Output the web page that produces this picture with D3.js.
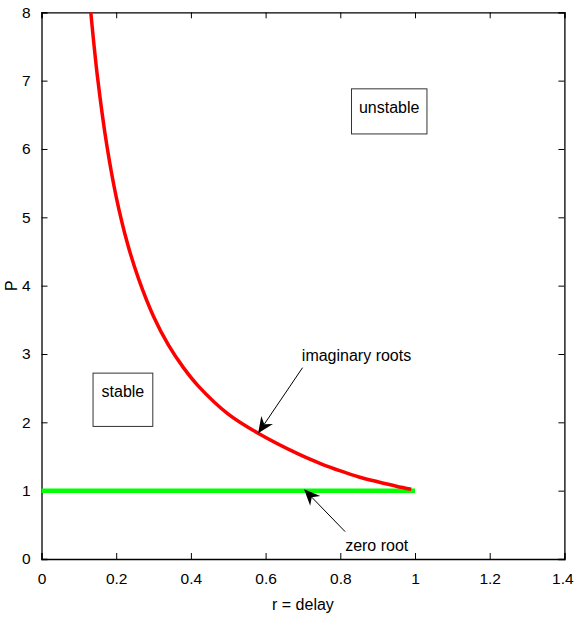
<!DOCTYPE html>
<html>
<head>
<meta charset="utf-8">
<script src="https://cdn.jsdelivr.net/npm/d3@7"></script>
<style>
body { margin: 0; background: #fff; }
text { font-family: "Liberation Sans", Arial, sans-serif; }
</style>
</head>
<body>
<div id="chart"></div>
<script>
// values
var rDelay = [0.132, 0.15, 0.175, 0.2, 0.23, 0.26, 0.3, 0.34, 0.38, 0.42, 0.5, 0.58, 0.69, 0.75, 0.8, 0.85, 0.9, 0.95, 0.99];
var pImag = [8.0, 7.05, 6.05, 5.3, 4.62, 4.1, 3.55, 3.13, 2.8, 2.53, 2.12, 1.84, 1.53, 1.39, 1.29, 1.2, 1.13, 1.065, 1.02];
var rZero = [0, 1];
var pZero = [1, 1];
var xTicks = [0, 0.2, 0.4, 0.6, 0.8, 1, 1.2, 1.4];
var yTicks = [0, 1, 2, 3, 4, 5, 6, 7, 8];
var xTickLabels = ["0", "0.2", "0.4", "0.6", "0.8", "1", "1.2", "1.4"];

var width = 574, height = 617;
var margin = {top: 12.3, right: 9.6, bottom: 58, left: 41.5};
var w = width - margin.left - margin.right,
    h = height - margin.top - margin.bottom;

var svg = d3.select("#chart").append("svg")
    .attr("width", width)
    .attr("height", height);

var g = svg.append("g")
    .attr("transform", "translate(" + margin.left + "," + margin.top + ")");

var x = d3.scaleLinear().domain([0, 1.4]).range([0, w]);
var y = d3.scaleLinear().domain([0, 8]).range([h, 0]);

// axes, ticks inside on all four sides (matlab box)
var xAxisG = g.append("g")
    .attr("transform", "translate(0," + h + ")")
    .call(d3.axisBottom(x).tickValues(xTicks).tickSize(-6).tickPadding(14)
        .tickFormat(function (d, i) { return xTickLabels[i]; }));
g.append("g")
    .call(d3.axisTop(x).tickValues(xTicks).tickSize(-6).tickFormat(""));
g.append("g")
    .call(d3.axisLeft(y).tickValues(yTicks).tickSize(-6).tickPadding(11));
g.append("g")
    .attr("transform", "translate(" + w + ",0)")
    .call(d3.axisRight(y).tickValues(yTicks).tickSize(-6).tickFormat(""));

g.selectAll(".domain").attr("stroke", "#000").attr("stroke-width", 1.3);
g.selectAll(".tick line").attr("stroke", "#000");
g.selectAll(".tick text")
    .attr("font-size", 15.5)
    .attr("fill", "#000")
    .style("font-family", "'Liberation Sans', Arial, sans-serif");
// last label sits against the right edge of the figure
xAxisG.selectAll(".tick text").filter(function (d) { return d === 1.4; })
    .attr("x", -2);

// lines
var zeroLine = d3.line()
    .x(function (d, i) { return x(rZero[i]); })
    .y(function (d, i) { return y(pZero[i]); });
g.append("path")
    .attr("d", zeroLine(rZero))
    .attr("fill", "none")
    .attr("stroke", "#00ff00")
    .attr("stroke-width", 4.5);

var imagLine = d3.line()
    .curve(d3.curveCatmullRom.alpha(0.5))
    .x(function (d, i) { return x(rDelay[i]); })
    .y(function (d, i) { return y(pImag[i]); });
g.append("path")
    .attr("d", imagLine(rDelay))
    .attr("fill", "none")
    .attr("stroke", "#ff0000")
    .attr("stroke-width", 3.5);

// boxed labels
function box(x0, x1, y0, y1, label, dy) {
    g.append("rect")
        .attr("x", x(x0)).attr("y", y(y1))
        .attr("width", x(x1) - x(x0)).attr("height", y(y0) - y(y1))
        .attr("fill", "#fff")
        .attr("stroke", "#333")
        .attr("stroke-width", 1);
    g.append("text")
        .attr("x", (x(x0) + x(x1)) / 2)
        .attr("y", (y(y0) + y(y1)) / 2 + dy)
        .attr("text-anchor", "middle")
        .attr("font-size", 16)
        .text(label);
}
box(0.83, 1.032, 6.22, 6.88, "unstable", 2);
box(0.138, 0.298, 1.94, 2.72, "stable", -3);

// arrows with notched heads
function arrow(r0, p0, r1, p1) {
    var x0 = x(r0), y0 = y(p0), x1 = x(r1), y1 = y(p1);
    var dx = x1 - x0, dy = y1 - y0, len = Math.sqrt(dx * dx + dy * dy);
    var ux = dx / len, uy = dy / len, nx = -uy, ny = ux;
    var hl = 16, hw = 7, notch = 11;
    g.append("line")
        .attr("x1", x0).attr("y1", y0)
        .attr("x2", x1 - ux * notch).attr("y2", y1 - uy * notch)
        .attr("stroke", "#000").attr("stroke-width", 1);
    var bx = x1 - ux * hl, by = y1 - uy * hl;
    g.append("path")
        .attr("d", "M" + x1 + "," + y1
            + "L" + (bx + nx * hw) + "," + (by + ny * hw)
            + "L" + (x1 - ux * notch) + "," + (y1 - uy * notch)
            + "L" + (bx - nx * hw) + "," + (by - ny * hw) + "Z")
        .attr("fill", "#000");
}
arrow(0.699, 2.8, 0.58, 1.84);
arrow(0.813, 0.4, 0.703, 1.02);

g.append("text")
    .attr("x", x(0.697)).attr("y", y(2.9))
    .attr("font-size", 16)
    .text("imaginary roots");
g.append("text")
    .attr("x", x(0.813)).attr("y", y(0.11))
    .attr("font-size", 16)
    .text("zero root");

// axis titles
svg.append("text")
    .attr("x", margin.left + w / 2)
    .attr("y", 610)
    .attr("text-anchor", "middle")
    .attr("font-size", 16)
    .text("r = delay");
svg.append("text")
    .attr("transform", "translate(17," + (margin.top + h / 2) + ") rotate(-90)")
    .attr("text-anchor", "middle")
    .attr("font-size", 16)
    .text("P");
</script>
</body>
</html>
